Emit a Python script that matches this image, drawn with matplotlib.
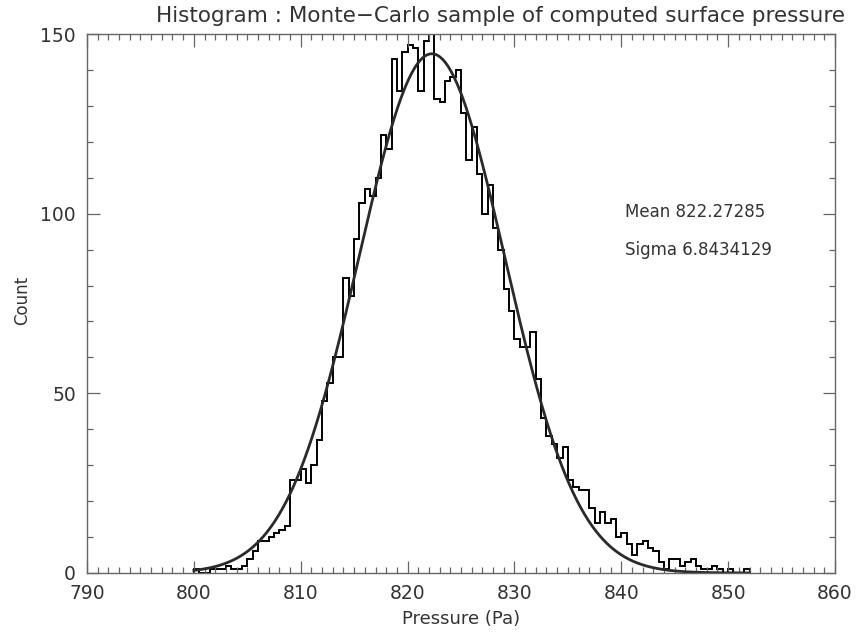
import numpy as np
import matplotlib
matplotlib.use("Agg")
import matplotlib.pyplot as plt
from matplotlib.ticker import MultipleLocator

# ---- data ----
bin_start = 800.0
bin_width = 0.5
counts = [1, 0, 0, 1, 1, 1, 2, 1, 1, 2,
          4, 6, 9, 9, 10, 11, 12, 13, 26, 26,
          29, 25, 30, 37, 48, 53, 60, 60, 82, 77,
          93, 103, 107, 105, 110, 122, 118, 143, 134, 145,
          147, 146, 134, 148, 150, 132, 131, 137, 138, 140,
          128, 115, 124, 111, 100, 108, 96, 90, 79, 73,
          65, 63, 63, 67, 54, 43, 38, 36, 32, 35,
          26, 24, 23, 23, 18, 14, 17, 14, 15, 10,
          11, 8, 5, 8, 9, 7, 6, 3, 1, 4,
          4, 2, 3, 4, 2, 1, 1, 2, 1, 0,
          1, 0, 0, 1]
fit_mean = 822.27285
fit_sigma = 6.8434129
fit_peak = 144.5
fit_range = (800.0, 852.0)
x_ticks = [790, 800, 810, 820, 830, 840, 850, 860]
y_ticks = [0, 50, 100, 150]

title = "Histogram : Monte\u2212Carlo sample of computed surface pressure"
xlabel = "Pressure (Pa)"
ylabel = "Count"

edges = bin_start + bin_width * np.arange(len(counts) + 1)
xf = np.linspace(fit_range[0], fit_range[1], 600)
yf = fit_peak * np.exp(-0.5 * ((xf - fit_mean) / fit_sigma) ** 2)

plt.rcParams['font.family'] = ['DejaVu Sans']
txt = '#333333'
axc = '#666666'

fig = plt.figure(figsize=(8.64, 6.32), dpi=100)
ax = fig.add_axes([87 / 864, 1 - 573 / 632, 748 / 864, 539 / 632])

ax.stairs(counts, edges, color='black', linewidth=1.4)
ax.plot(xf, yf, color='#2a2a2a', linewidth=2.0)

ax.set_xlim(790, 860)
ax.set_ylim(0, 150)
ax.set_xticks(x_ticks)
ax.set_yticks(y_ticks)
ax.xaxis.set_minor_locator(MultipleLocator(1))
ax.yaxis.set_minor_locator(MultipleLocator(10))
ax.tick_params(which='both', direction='in', top=True, right=True,
               color=axc, labelcolor=txt, labelsize=13.5)
ax.tick_params(which='major', length=9, width=0.9, pad=8)
ax.tick_params(which='minor', length=4.5, width=0.9)
for s in ax.spines.values():
    s.set_color(axc)
    s.set_linewidth(1.0)

fig.text(500 / 864, 1 - 16 / 632, title, fontsize=15.5, color=txt,
         ha='center', va='center')
ax.set_xlabel(xlabel, fontsize=13, color=txt, labelpad=5)
fig.text(22 / 864, 1 - 300 / 632, ylabel, fontsize=12, color=txt,
         rotation=90, ha='center', va='center')

ax.text(840.35, 100.5, "Mean 822.27285", fontsize=12, color=txt, va='center', ha='left')
ax.text(840.35, 89.9, "Sigma 6.8434129", fontsize=12, color=txt, va='center', ha='left')

fig.savefig("out.png", dpi=100)
